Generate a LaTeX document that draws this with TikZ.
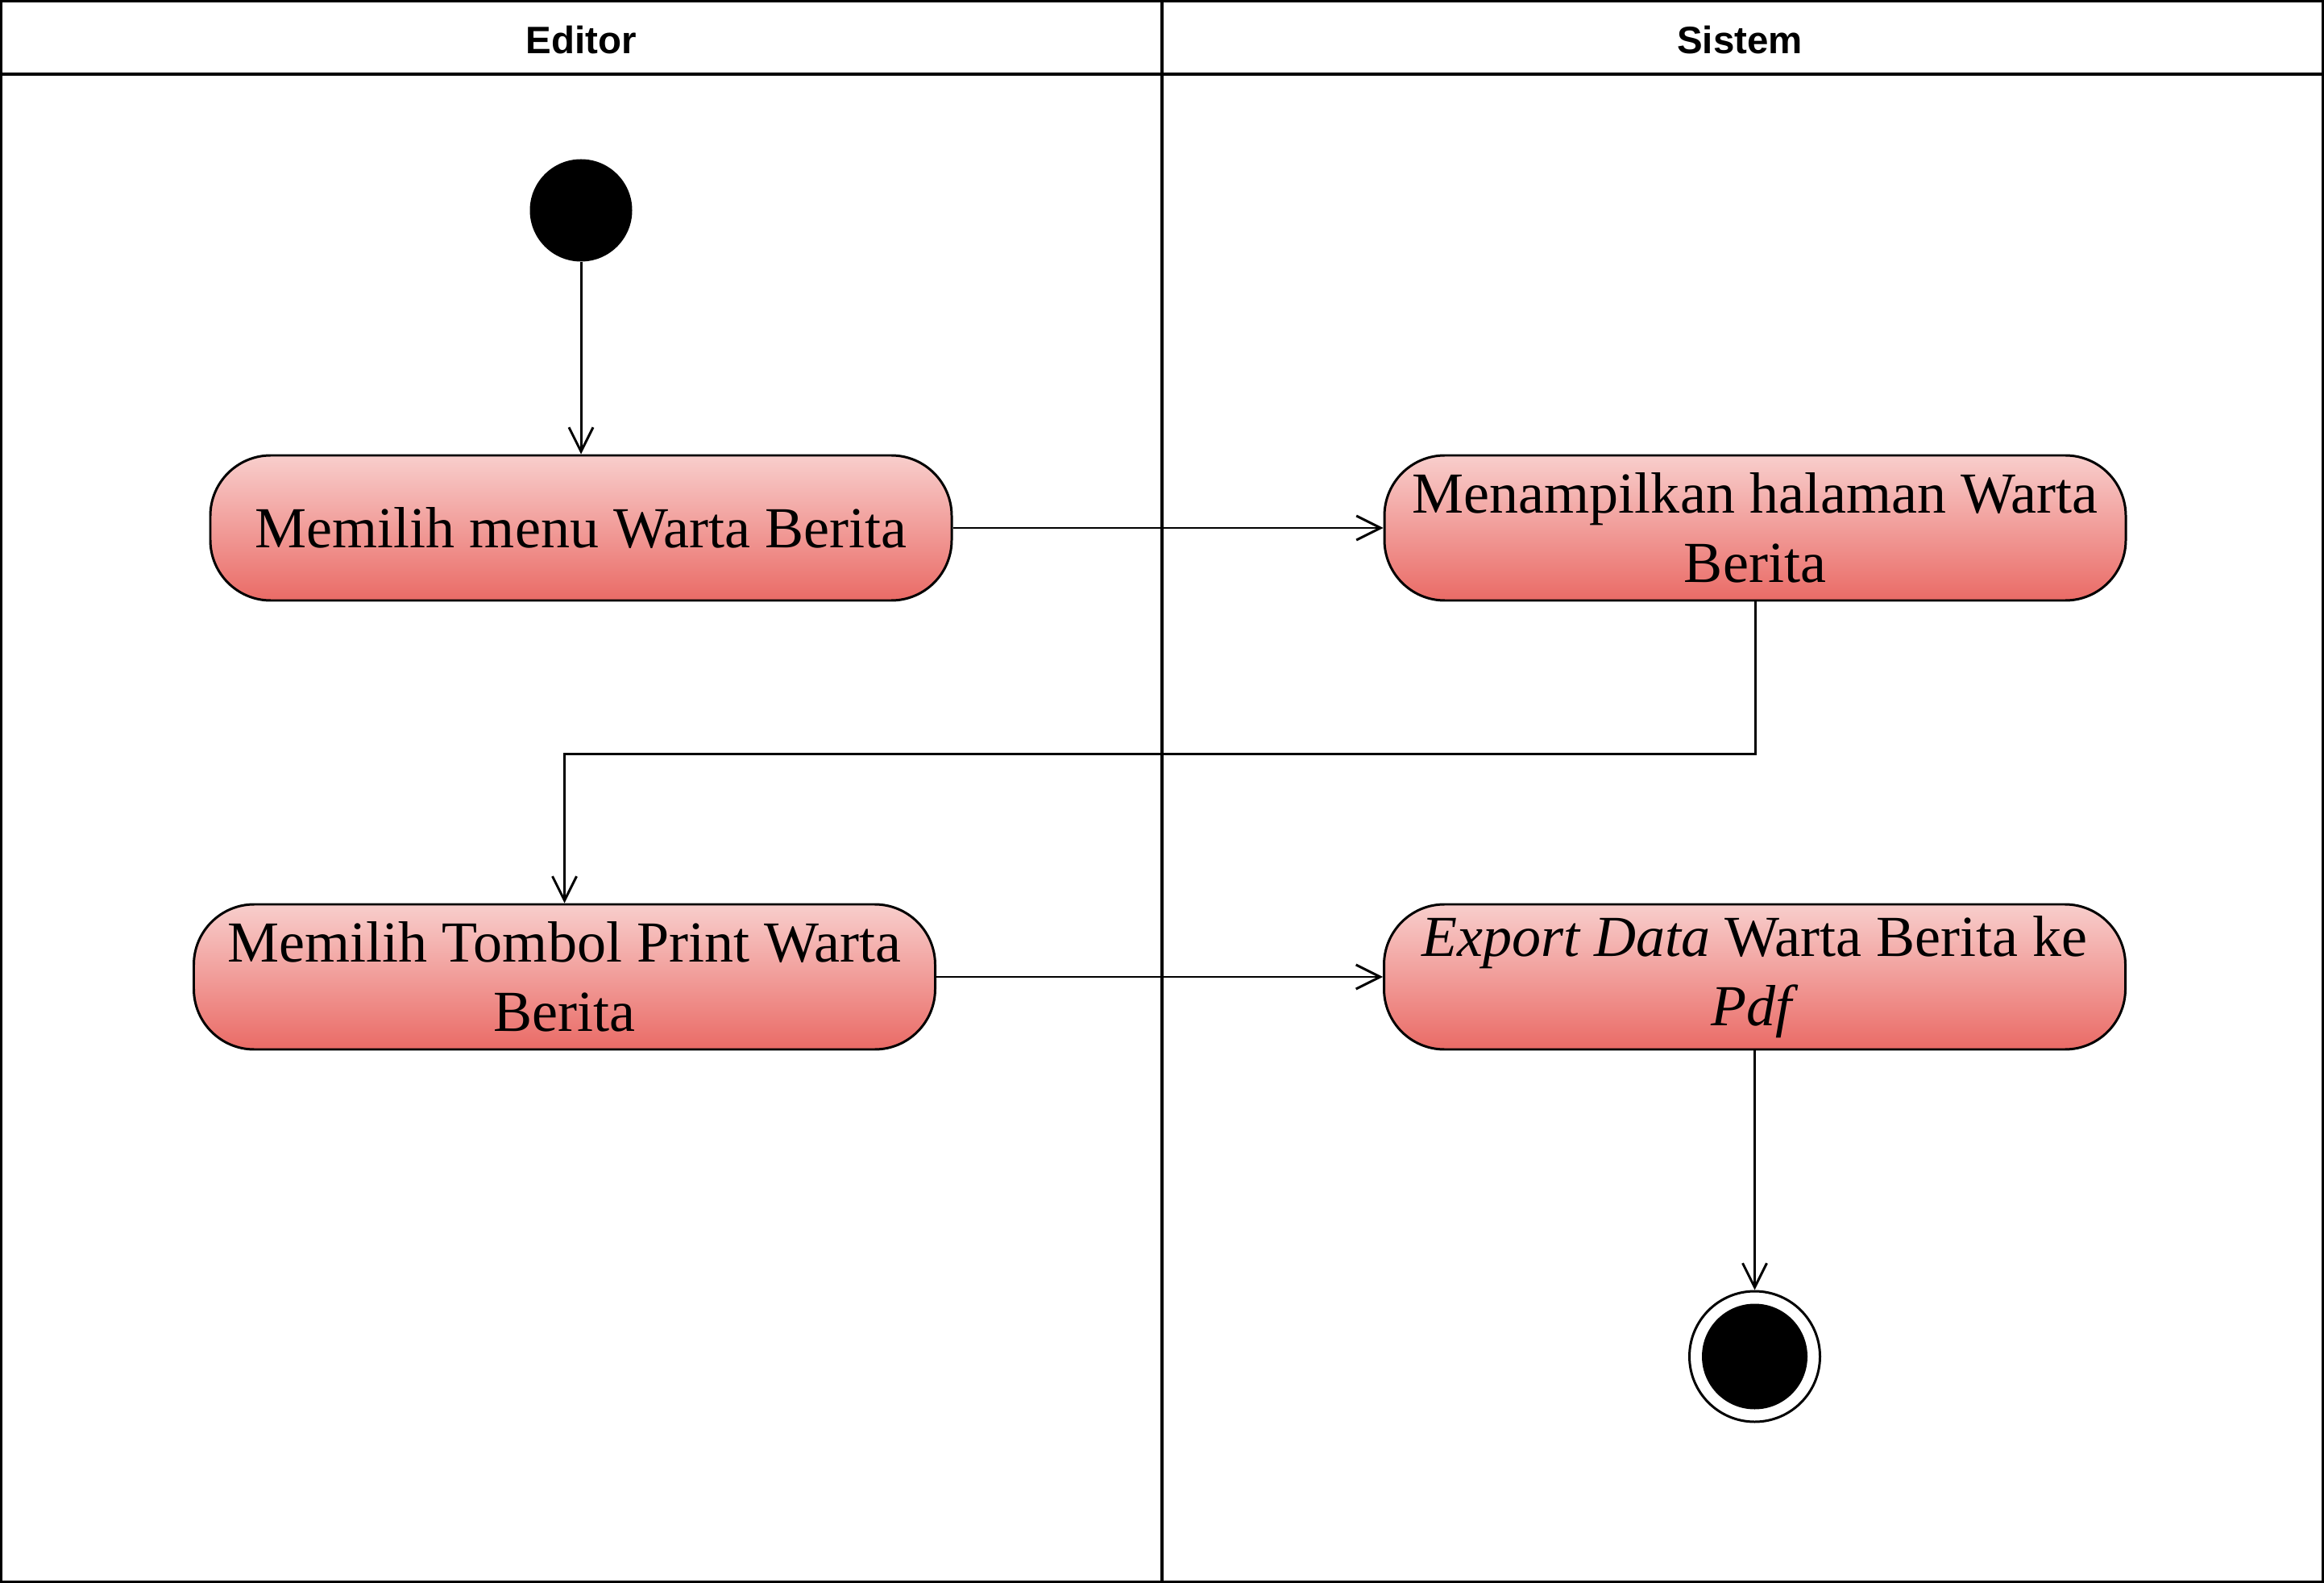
\documentclass[tikz,border=0pt]{standalone}
\usepackage{fontspec}
\setmainfont{Liberation Serif}
\newfontfamily\headfont{Liberation Sans}
\usetikzlibrary{positioning,arrows.meta}
\definecolor{actTop}{HTML}{F8CECC}
\definecolor{actBot}{HTML}{EA6B66}

\begin{document}
\begin{tikzpicture}[
    lane/.style={draw, line width=0.9pt},
    head/.style={font=\headfont\bfseries\fontsize{13.5}{16}\selectfont},
    activity/.style={rectangle, draw, line width=0.85pt, rounded corners=0.75cm, minimum width=9.2cm, minimum height=1.8cm, top color=actTop, bottom color=actBot, align=center, inner sep=0pt, font=\fontsize{20.5}{24.5}\selectfont},
    initnode/.style={circle, fill=black, minimum size=1.27cm, inner sep=0pt},
    finalnode/.style={circle, draw, fill=white, line width=0.85pt, minimum size=1.62cm, inner sep=0pt, path picture={\fill[black] (path picture bounding box.center) circle (0.655cm);}},
    arrow/.style={-{Straight Barb[length=3mm, width=3mm]}, line width=0.85pt}
]
\useasboundingbox (0,0) rectangle (28.84,-19.64);

% Swimlanes
\draw[lane] (0.015,-0.015) rectangle (28.825,-19.625);
\draw[lane] (0,-0.92) -- (28.84,-0.92);
\draw[lane] (14.42,0) -- (14.42,-19.64);
\node[head] (hEditor) at (7.21,-0.50) {Editor};
\node[head] (hSistem) at (21.59,-0.50) {Sistem};

% Activities
\node[initnode] (init) at (7.21,-2.61) {};
\node[activity] (pilihMenu) at (7.21,-6.55) {Memilih menu Warta Berita};
\node[activity, right=5.34cm of pilihMenu] (tampil) {Menampilkan halaman Warta\\Berita};
\node[activity] (pilihPrint) at (7.005,-12.12) {Memilih Tombol Print Warta\\Berita};
\node[activity] (export) at (21.775,-12.12) {\textit{Export Data} Warta Berita ke\\\textit{Pdf}};
\node[finalnode] (final) at (21.775,-16.83) {};

% Flows
\draw[arrow] (init) -- (pilihMenu);
\draw[arrow] (pilihMenu) -- (tampil);
\draw[arrow] (tampil.south) -- ++(0,-1.89) -| (pilihPrint.north);
\draw[arrow] (pilihPrint) -- (export);
\draw[arrow] (export) -- (final);

\end{tikzpicture}
\end{document}
